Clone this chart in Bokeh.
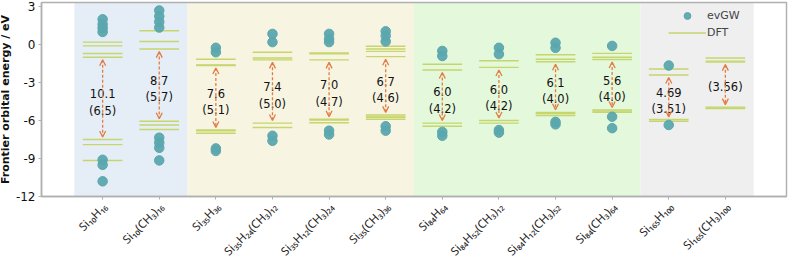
import math

from bokeh.core.properties import value
from bokeh.embed import file_html
from bokeh.models import (Arrow, BoxAnnotation, ColumnDataSource, FixedTicker,
                          OpenHead, Range1d)
from bokeh.plotting import figure
from bokeh.resources import INLINE

# ---- data -------------------------------------------------------------------
molecules = ["Si₁₀H₁₆", "Si₁₀(CH₃)₁₆",
             "Si₃₅H₃₆", "Si₃₅H₂₄(CH₃)₁₂", "Si₃₅H₁₂(CH₃)₂₄", "Si₃₅(CH₃)₃₆",
             "Si₈₄H₆₄", "Si₈₄H₅₂(CH₃)₁₂", "Si₈₄H₁₂(CH₃)₅₂", "Si₈₄(CH₃)₆₄",
             "Si₁₆₅H₁₀₀", "Si₁₆₅(CH₃)₁₀₀"]

# evGW quasiparticle energies (eV), unoccupied and occupied frontier states
gw_unocc = [[2.0, 1.6, 1.3, 1.0], [2.7, 2.25, 1.8, 1.35], [-0.25, -0.6],
            [0.85, 0.2], [0.85, 0.45, 0.2], [1.05, 0.7, 0.25],
            [-0.5, -0.9], [-0.25, -0.75], [0.15, -0.25], [-0.1],
            [-1.65], []]
gw_occ = [[-9.1, -9.5, -10.8], [-7.35, -7.75, -8.15, -9.15], [-8.2, -8.4],
          [-7.2, -7.6], [-6.8, -7.1], [-6.45, -6.8],
          [-6.9, -7.2], [-6.75, -6.95], [-6.1, -6.3], [-5.7, -6.6],
          [-6.35], []]

# DFT Kohn-Sham levels (eV)
dft_unocc = [[0.2, -0.1, -0.7, -1.0], [1.1, 0.25, -0.35], [-1.15, -1.6, -1.65],
             [-0.6, -1.05, -1.2], [-0.65, -0.72, -1.2], [-0.13, -0.34, -0.53, -0.95],
             [-1.55, -2.0], [-1.27, -1.8], [-0.8, -1.15, -1.35],
             [-0.69, -1.0, -1.17], [-1.93, -2.4], [-1.05, -1.3, -1.38]]
dft_occ = [[-7.5, -7.9, -9.15], [-6.05, -6.35, -6.7], [-6.75, -6.8, -7.0],
           [-6.2, -6.55], [-5.9, -5.95, -6.17], [-5.55, -5.65, -5.75, -5.9],
           [-6.2, -6.45], [-6.0, -6.2], [-5.35, -5.45, -5.6],
           [-5.17, -5.25, -5.35], [-5.91, -6.05], [-4.94, -5.0, -5.06]]

# gap labels: evGW gap, DFT gap in brackets
gw_gap = ["10.1", "8.7", "7.6", "7.4", "7.0", "6.7", "6.0", "6.0", "6.1", "5.6", "4.69", ""]
dft_gap = ["6.5", "5.7", "5.1", "5.0", "4.7", "4.6", "4.2", "4.2", "4.0", "4.0", "3.51", "3.56"]

# cluster families (Si10, Si35, Si84, Si165) and their shading
family_sizes = [2, 4, 4, 2]
family_colors = ["#e5eef6", "#f7f5e2", "#e4f8dc", "#efefef"]

y_ticks = [-12, -9, -6, -3, 0, 3]

# ---- layout -----------------------------------------------------------------
W, H = 789, 259
BOX_L, BOX_R, BOX_T, BOX_B = 41, 786, 2, 196   # axes box in canvas pixels
X0, X1 = -1.08, 12.08                          # data extent of the box
Y0, Y1 = -12.0, 3.33

sx = (BOX_R - BOX_L) / (X1 - X0)
sy = (BOX_B - BOX_T) / (Y1 - Y0)
x_range = Range1d(X0 - BOX_L / sx, X1 + (W - BOX_R) / sx)
y_range = Range1d(Y0 - (H - BOX_B) / sy, Y1 + BOX_T / sy)

GW_COLOR = "#5ba7ae"
DFT_COLOR = "#c6d56c"
ARROW_COLOR = "#e27c43"
SPINE = "#b0b0b0"
HALF = 0.35

p = figure(width=W, height=H, output_backend="svg", toolbar_location=None,
           x_range=x_range, y_range=y_range,
           min_border_left=0, min_border_right=0, min_border_top=0,
           min_border_bottom=0)
p.background_fill_color = "white"
p.border_fill_color = "white"
p.outline_line_color = None
p.xgrid.visible = False
p.ygrid.visible = False

# family background bands
start = -0.5
for n, c in zip(family_sizes, family_colors):
    p.add_layout(BoxAnnotation(left=start, right=start + n, bottom=Y0, top=Y1,
                               fill_color=c, fill_alpha=1.0, line_alpha=0,
                               level="underlay"))
    start += n

# DFT levels as short horizontal bars
sx0, sx1, sy_ = [], [], []
for i, (u, o) in enumerate(zip(dft_unocc, dft_occ)):
    for e in u + o:
        sx0.append(i - HALF)
        sx1.append(i + HALF)
        sy_.append(e)
p.segment(x0=sx0, x1=sx1, y0=sy_, y1=sy_, line_color=DFT_COLOR, line_width=1.4,
          legend_label="DFT")

# evGW levels as dots
px, py = [], []
for i, (u, o) in enumerate(zip(gw_unocc, gw_occ)):
    for e in u + o:
        px.append(i)
        py.append(e)
p.scatter(px, py, size=9.5, fill_color=GW_COLOR, line_color=GW_COLOR,
          fill_alpha=0.95, legend_label="evGW")

# gap arrows between DFT HOMO and LUMO
ax, ay0, ay1 = [], [], []
for i, (u, o) in enumerate(zip(dft_unocc, dft_occ)):
    ax.append(i)
    ay0.append(min(u) - 0.2)
    ay1.append(max(o) + 0.2)
arrow_src = ColumnDataSource(dict(x=ax, y0=ay0, y1=ay1))
head = dict(size=6, line_color=ARROW_COLOR, line_width=1.3)
p.add_layout(Arrow(x_start="x", y_start="y0", x_end="x", y_end="y1",
                   source=arrow_src, start=OpenHead(**head), end=OpenHead(**head),
                   line_color=ARROW_COLOR, line_width=1.3, line_dash="3 2"))

# gap labels
tx, ty, tt = [], [], []
for i, (u, o) in enumerate(zip(dft_unocc, dft_occ)):
    mid = (min(u) + max(o)) / 2
    if gw_gap[i]:
        c = mid - 0.3
        tx += [i, i]
        ty += [c + 0.67, c - 0.67]
        tt += [gw_gap[i], "(" + dft_gap[i] + ")"]
    else:
        tx.append(i)
        ty.append(mid - 0.2)
        tt.append("(" + dft_gap[i] + ")")
p.text(tx, ty, text=tt, text_align="center", text_baseline="middle",
       text_font=value("DejaVu Sans"), text_font_size="11.5px",
       text_color="#111111")

# frame box
p.quad(left=[X0], right=[X1], bottom=[Y0], top=[Y1], fill_alpha=0,
       line_color=SPINE, line_width=1.5)

# axes pinned to the box edges
p.yaxis.fixed_location = X0
p.yaxis.bounds = (Y0, Y1)
p.yaxis.ticker = FixedTicker(ticks=y_ticks)
p.yaxis.major_label_overrides = {t: str(t) for t in y_ticks}
p.yaxis.major_label_text_font = "DejaVu Sans"
p.yaxis.major_label_text_font_size = "12px"
p.yaxis.major_label_text_color = "#111111"
p.yaxis.major_label_standoff = 3
p.yaxis.major_tick_out = 3
p.yaxis.major_tick_in = 0
p.yaxis.minor_tick_line_color = None
p.yaxis.axis_label = "Frontier orbital energy / eV"
p.yaxis.axis_label_text_font = "DejaVu Sans"
p.yaxis.axis_label_text_font_style = "bold"
p.yaxis.axis_label_text_font_size = "11px"
p.yaxis.axis_label_text_color = "#111111"
p.yaxis.axis_label_standoff = 1

cat_idx = list(range(len(molecules)))
p.xaxis.fixed_location = Y0
p.xaxis.bounds = (X0, X1)
p.xaxis.ticker = FixedTicker(ticks=cat_idx)
p.xaxis.major_label_overrides = {i: "" for i in cat_idx}
p.xaxis.major_tick_out = 3
p.xaxis.major_tick_in = 0
p.xaxis.minor_tick_line_color = None

for ax_ in (p.xaxis, p.yaxis):
    ax_.axis_line_color = SPINE
    ax_.axis_line_width = 1.5
    ax_.major_tick_line_color = SPINE

# slanted molecule names, each ending just below its tick
p.text(x=[i + 2 / sx for i in cat_idx], y=[Y0 - 8 / sy] * len(cat_idx),
       text=molecules, angle=math.pi / 4, text_align="right",
       text_baseline="middle", text_font=value("Noto Sans"),
       text_font_size="11.5px", text_color="#222222")

# legend
lg = p.legend[0]
lg.items = [lg.items[1], lg.items[0]]
lg.location = (668, 218)
lg.border_line_alpha = 0
lg.background_fill_alpha = 0
lg.glyph_width = 38
lg.glyph_height = 17
lg.label_height = 17
lg.spacing = 0
lg.padding = 0
lg.margin = 0
lg.label_standoff = 1
lg.label_text_font = "DejaVu Sans"
lg.label_text_font_size = "11px"

open("out.html", "w").write(file_html(p, INLINE))
